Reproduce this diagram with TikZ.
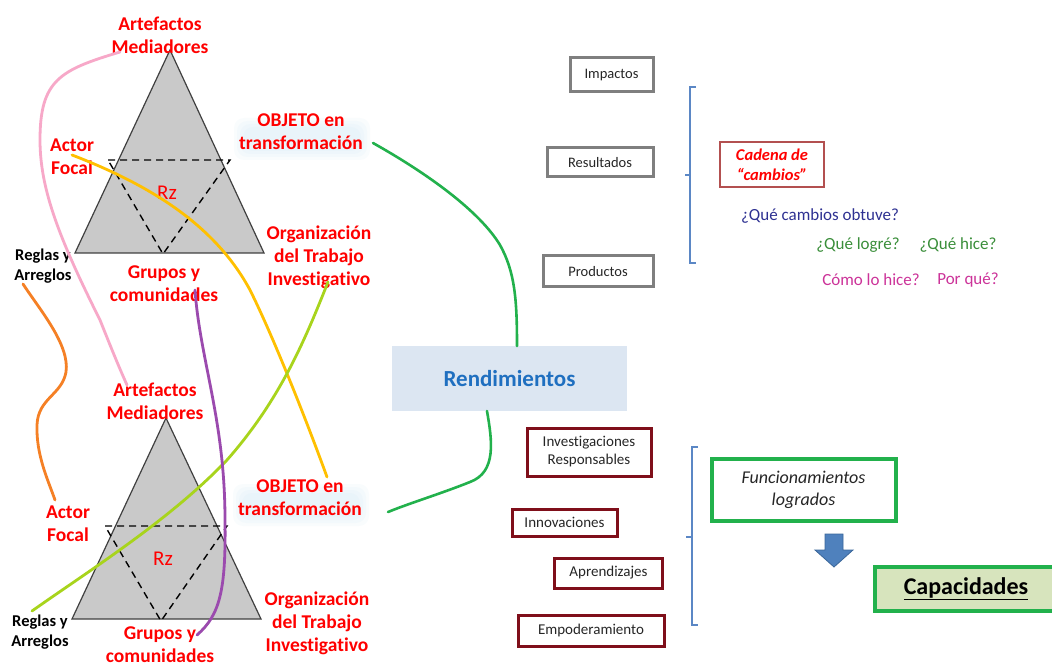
\documentclass[tikz,border=0pt]{standalone}
\usepackage{fontspec}
\setmainfont{Carlito}[Ligatures={NoCommon}]
\usetikzlibrary{positioning,calc}
\definecolor{trifill}{HTML}{C9C9C9}
\definecolor{triedge}{HTML}{404040}
\definecolor{lblred}{HTML}{FF0000}
\definecolor{cpink}{HTML}{F7A8C8}
\definecolor{corange}{HTML}{F58025}
\definecolor{cyellow}{HTML}{FFC000}
\definecolor{clime}{HTML}{A8D41C}
\definecolor{cpurple}{HTML}{9B4AAE}
\definecolor{cgreen}{HTML}{22B14C}
\definecolor{rendfill}{HTML}{DCE6F2}
\definecolor{rendtext}{HTML}{1F6FC0}
\definecolor{graybox}{HTML}{7F7F7F}
\definecolor{wine}{HTML}{7F0F1A}
\definecolor{bracket}{HTML}{5B87C5}
\definecolor{cadena}{HTML}{B35050}
\definecolor{qblue}{HTML}{2E3192}
\definecolor{qgreen}{HTML}{3A8E3A}
\definecolor{qpink}{HTML}{CC3399}
\definecolor{capfill}{HTML}{D7E4BD}
\definecolor{arrowfill}{HTML}{4F81BD}
\definecolor{arrowedge}{HTML}{3A6699}
\definecolor{glowc}{HTML}{BFE2F2}
\tikzset{
  lbl/.style={text=lblred, font=\fontsize{19.5}{23}\selectfont\bfseries, align=center, inner sep=0pt},
  rules/.style={text=black, font=\fontsize{16.5}{20}\selectfont\bfseries, align=center, inner sep=0pt},
  rz/.style={text=lblred, font=\fontsize{21}{24}\selectfont, inner sep=0pt},
  tri/.style={fill=trifill, draw=triedge, line width=1.2pt},
  inner/.style={draw=black, dashed, line width=1.4pt, dash pattern=on 7pt off 5pt},
  link/.style={line width=2.8pt, line cap=round},
  grayb/.style={draw=graybox, line width=3pt, fill=white, font=\fontsize{14.5}{17}\selectfont, text=black!85, inner sep=0pt},
  wineb/.style={draw=wine, line width=3pt, fill=white, font=\fontsize{15}{18}\selectfont, text=black!85, inner sep=0pt, align=center},
  brk/.style={draw=bracket, line width=1.3pt},
  haze/.style={fill=glowc, fill opacity=0.09, rounded corners=10pt},
}
% soft halo behind a two-line label, centred at #1
\newcommand{\halo}[1]{%
  \foreach \w/\h in {136/40,130/34,124/28,118/22}{
    \path[haze] ($(#1)+(-\w/2,-\h/2+4)$) rectangle ($(#1)+(\w/2,\h/2+6)$);
  }%
}
\begin{document}
\begin{tikzpicture}[x=1pt,y=-1pt]
\useasboundingbox (0,0) rectangle (1052,668);
\fill[white] (0,0) rectangle (1052,668);

% ---------- upper activity triangle ----------
\draw[tri] (170,50) -- (75,253) -- (264,253) -- cycle;
\draw[inner] (108,160) -- (230,160) -- (163,254) -- cycle;
\node[rz] (rz1) at (167,193) {Rz};

% ---------- lower activity triangle ----------
\draw[tri] (166,418) -- (72,619) -- (261,619) -- cycle;
\draw[inner] (105,526) -- (227,526) -- (161,621) -- cycle;
\node[rz] (rz2) at (163,559) {Rz};

% halo under the object labels
\halo{302,134}
\halo{301,500}

% ---------- labels of the upper triangle ----------
\node[lbl] (art1) at (160,35) {Artefactos\\Mediadores};
\node[lbl] (obj1) at (301,132) {OBJETO en\\transformación};
\node[lbl] (act1) at (72,157) {Actor\\Focal};
\node[lbl] (org1) at (319,257) {Organización\\del Trabajo\\Investigativo};
\node[lbl] (gru1) at (164,284) {Grupos y\\comunidades};
\node[rules] (reg1) at (43,266) {Reglas y\\Arreglos};

% ---------- labels of the lower triangle ----------
\node[lbl] (art2) at (155,401) {Artefactos\\Mediadores};
\node[lbl] (obj2) at (300,498) {OBJETO en\\transformación};
\node[lbl] (act2) at (68,524) {Actor\\Focal};
\node[lbl] (org2) at (317,623) {Organización\\del Trabajo\\Investigativo};
\node[lbl] (gru2) at (160,645) {Grupos y\\comunidades};
\node[rules] (reg2) at (40,632) {Reglas y\\Arreglos};

% ---------- connector end points ----------
\coordinate (pinkA) at (120,52);
\coordinate (pinkB) at (127,385);
\coordinate (orA) at (23,284);
\coordinate (orB) at (55,500);
\coordinate (yeA) at (72,155);
\coordinate (yeB) at (327,477);
\coordinate (liA) at (328,282);
\coordinate (liB) at (32,611);
\coordinate (puA) at (195,290);
\coordinate (puB) at (197,635);
\coordinate (grA) at (373,143);
\coordinate (grB) at (517,346);
\coordinate (grC) at (487,411);
\coordinate (grD) at (388,512);

% ---------- curves linking the two triangles ----------
\draw[link, cpink] (pinkA) .. controls (60,70) and (40,80) .. (40,140)
  .. controls (40,190) and (60,240) .. (100,320)
  .. controls (110,345) and (118,365) .. (pinkB);
\draw[link, corange] (orA) .. controls (40,310) and (70,345) .. (66,372)
  .. controls (62,395) and (38,398) .. (37,425)
  .. controls (36,455) and (48,480) .. (orB);
\draw[link, cyellow] (yeA) .. controls (150,185) and (215,225) .. (250,290)
  .. controls (275,340) and (310,430) .. (yeB);
\draw[link, clime] (liA) .. controls (305,340) and (280,400) .. (227,460)
  .. controls (170,520) and (90,570) .. (liB);
\draw[link, cpurple] (puA) .. controls (200,360) and (225,420) .. (225,520)
  .. controls (226,590) and (220,615) .. (puB);

% ---------- Rendimientos ----------
\node[fill=rendfill, minimum width=235pt, minimum height=65pt, inner sep=0pt,
      text=rendtext, font=\fontsize{23}{27}\selectfont\bfseries] (rend) at (509.5,378.5) {Rendimientos};
\draw[link, cgreen, line width=2.6pt] (grA) .. controls (430,175) and (480,212) .. (500,245)
  .. controls (515,272) and (517,300) .. (grB);
\draw[link, cgreen, line width=2.6pt] (grC) .. controls (492,440) and (497,472) .. (470,482)
  .. controls (440,494) and (410,503) .. (grD);

% ---------- chain of results (gray boxes) ----------
\node[grayb, minimum width=83pt, minimum height=34pt] (imp) at (611.5,75) {Impactos};
\node[grayb, minimum width=106pt, minimum height=29pt] (res) at (600,162.5) {Resultados};
\node[grayb, minimum width=110pt, minimum height=31pt] (pro) at (598,271.5) {Productos};

% upper bracket
\coordinate (b1t) at (696,87);
\coordinate (b1b) at (696,263);
\coordinate (b1m) at (685,175);
\draw[brk] (b1t) -- (690,87) -- (690,263) -- (b1b);
\draw[brk] (690,175) -- (b1m);

\node[draw=cadena, line width=1.5pt, minimum width=104pt, minimum height=45pt, inner sep=0pt,
      text=lblred, align=center, font=\fontsize{16.5}{20}\selectfont\bfseries\itshape] (cad) at (772,164.5)
      {Cadena de\\“cambios”};
\node[text=qblue, font=\fontsize{17}{20}\selectfont, inner sep=0pt] (q1) at (820,216) {¿Qué cambios obtuve?};
\node[text=qgreen, font=\fontsize{17}{20}\selectfont, inner sep=0pt] (q2) at (858,245) {¿Qué logré?};
\node[text=qgreen, font=\fontsize{17}{20}\selectfont, inner sep=0pt] (q3) at (958,245) {¿Qué hice?};
\node[text=qpink, font=\fontsize{17}{20}\selectfont, inner sep=0pt] (q4) at (871,280) {Cómo lo hice?};
\node[text=qpink, font=\fontsize{17}{20}\selectfont, inner sep=0pt] (q5) at (968,280) {Por qué?};

% ---------- outcomes (wine boxes) ----------
\node[wineb, minimum width=124pt, minimum height=48pt] (inv) at (589,452) {Investigaciones\\Responsables};
\node[wineb, minimum width=105pt, minimum height=27pt] (inn) at (564.5,522.5) {Innovaciones};
\node[wineb, minimum width=108pt, minimum height=30pt] (apr) at (608.5,573) {Aprendizajes};
\node[wineb, minimum width=146pt, minimum height=31pt] (emp) at (591,630.5) {Empoderamiento};

% lower bracket
\coordinate (b2t) at (698,447);
\coordinate (b2b) at (698,625);
\coordinate (b2m) at (686,537);
\draw[brk] (b2t) -- (692,447) -- (692,625) -- (b2b);
\draw[brk] (692,537) -- (b2m);

\node[draw=cgreen, line width=4pt, fill=white, minimum width=184pt, minimum height=62pt, inner sep=0pt,
      align=center, text=black!85, font=\fontsize{18}{22}\selectfont\itshape] (fun) at (803.5,489.5)
      {Funcionamientos\\logrados};
\draw[fill=arrowfill, draw=arrowedge, line width=0.8pt]
  (825,534) -- (843,534) -- (843,550) -- (853,550) -- (834,567) -- (815,550) -- (825,550) -- cycle;
\node[draw=cgreen, line width=4pt, fill=capfill, minimum width=182pt, minimum height=44pt, inner sep=0pt,
      text=black, font=\fontsize{24}{28}\selectfont\bfseries] (cap) at (966,588.5)
      {\underline{Capacidades}};
\end{tikzpicture}
\end{document}
